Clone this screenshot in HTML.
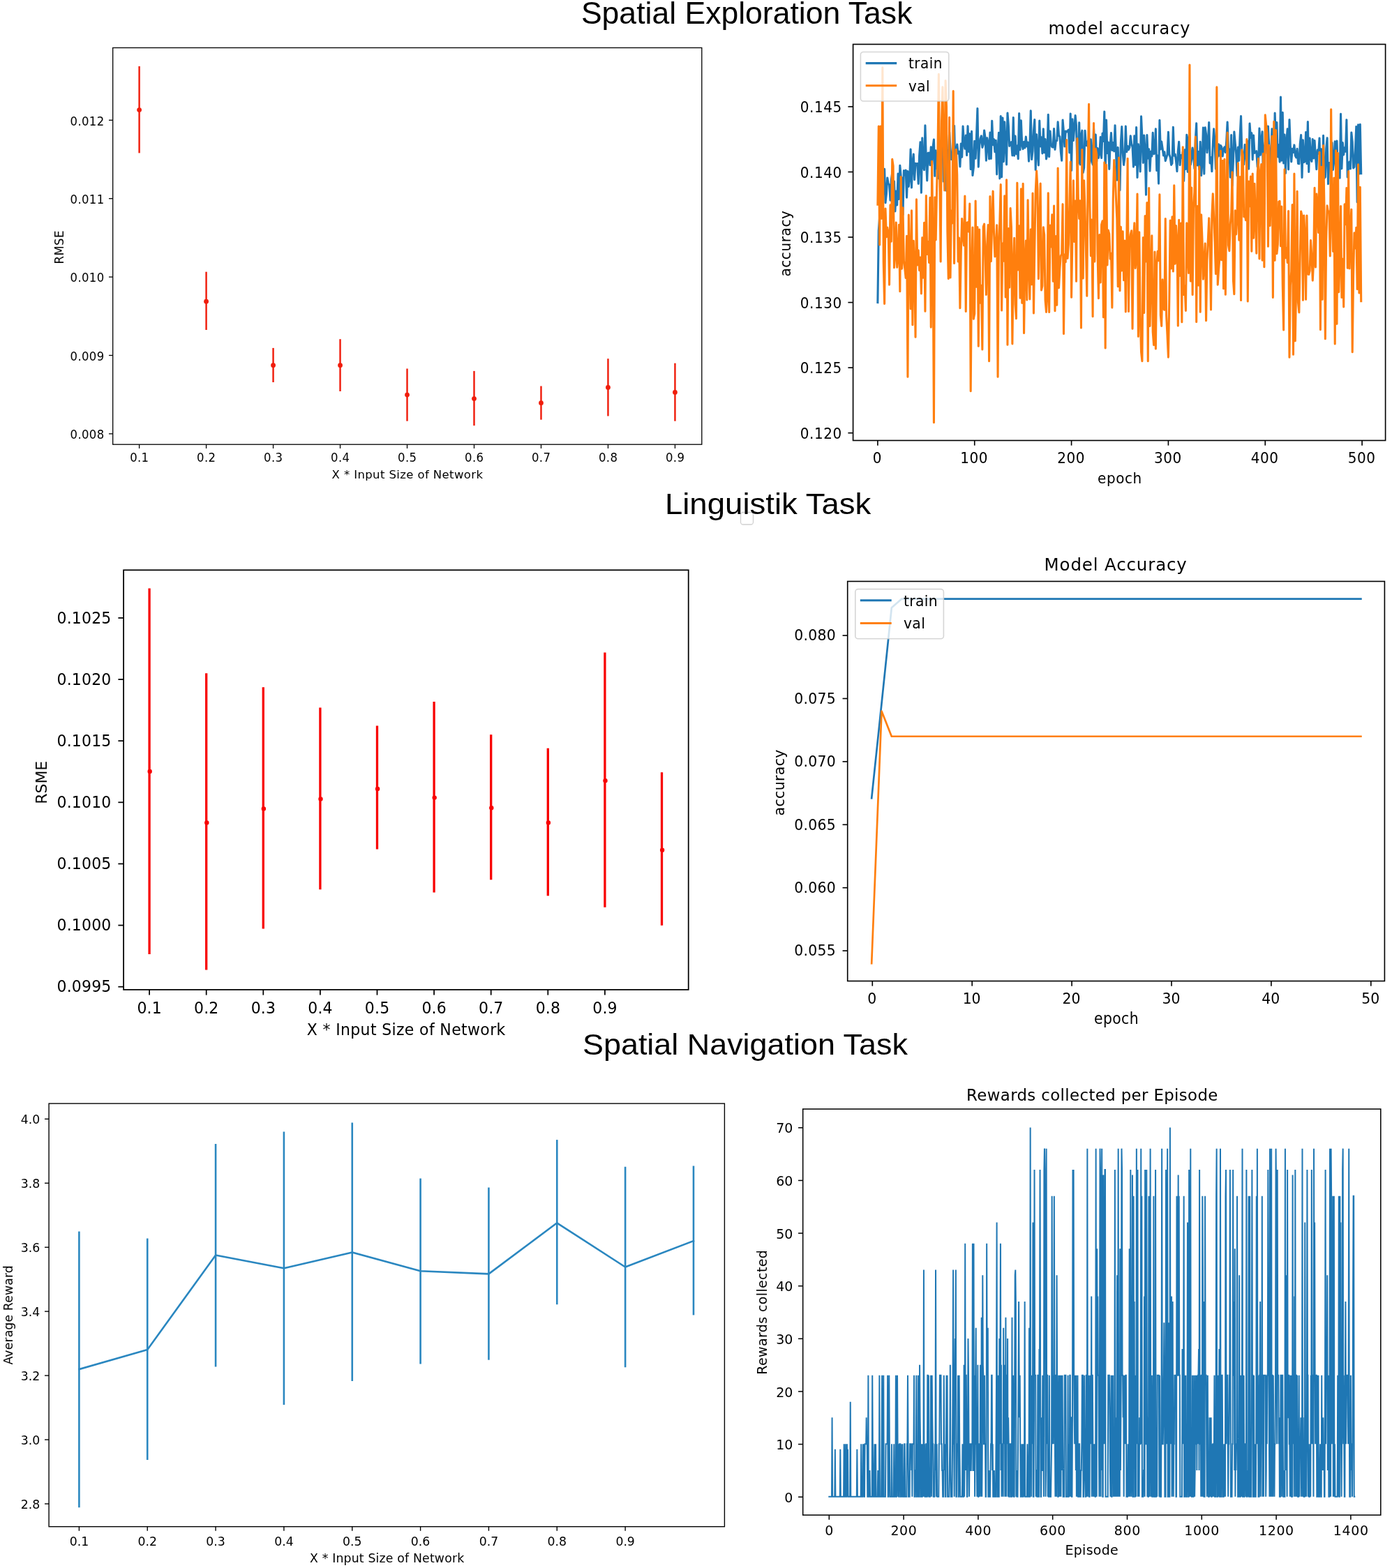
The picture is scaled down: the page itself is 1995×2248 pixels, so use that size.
<!DOCTYPE html>
<html><head><meta charset="utf-8"><title>Figure</title>
<style>
html,body{margin:0;padding:0;background:#fff;}
body{width:1995px;height:2248px;overflow:hidden;}
svg{display:block;}
text.d{font-family:"DejaVu Sans","Liberation Sans",sans-serif;}
text.l{font-family:"Liberation Sans",Arial,sans-serif;}
</style></head><body>
<svg width="1995" height="2248" viewBox="0 0 1995 2248">
<rect width="1995" height="2248" fill="#fff"/>
<text class="l" transform="translate(832.9 33.6)" font-size="43.5" text-anchor="start" textLength="474.5" lengthAdjust="spacingAndGlyphs">Spatial Exploration Task</text>
<rect x="1061.5" y="734.5" width="18" height="17.5" rx="3.5" fill="#fff" stroke="#d0d0d0" stroke-width="1.3"/>
<text class="l" transform="translate(952.9 736.7)" font-size="41.7" text-anchor="start" textLength="295.5" lengthAdjust="spacingAndGlyphs">Linguistik Task</text>
<text class="l" transform="translate(835 1511.8)" font-size="41.7" text-anchor="start" textLength="465.9" lengthAdjust="spacingAndGlyphs">Spatial Navigation Task</text>
<line x1="199.6" y1="95" x2="199.6" y2="219.4" stroke="#f01d0c" stroke-width="2.44"/>
<circle cx="199.6" cy="157.6" r="3.4" fill="#f01d0c"/>
<line x1="295.58" y1="389.7" x2="295.58" y2="473" stroke="#f01d0c" stroke-width="2.44"/>
<circle cx="295.58" cy="432.2" r="3.4" fill="#f01d0c"/>
<line x1="391.56" y1="498.9" x2="391.56" y2="548" stroke="#f01d0c" stroke-width="2.44"/>
<circle cx="391.56" cy="523.7" r="3.4" fill="#f01d0c"/>
<line x1="487.54" y1="486.2" x2="487.54" y2="561" stroke="#f01d0c" stroke-width="2.44"/>
<circle cx="487.54" cy="523.7" r="3.4" fill="#f01d0c"/>
<line x1="583.52" y1="528.5" x2="583.52" y2="603.7" stroke="#f01d0c" stroke-width="2.44"/>
<circle cx="583.52" cy="566.1" r="3.4" fill="#f01d0c"/>
<line x1="679.5" y1="531.9" x2="679.5" y2="610.2" stroke="#f01d0c" stroke-width="2.44"/>
<circle cx="679.5" cy="571.6" r="3.4" fill="#f01d0c"/>
<line x1="775.48" y1="553.5" x2="775.48" y2="601.7" stroke="#f01d0c" stroke-width="2.44"/>
<circle cx="775.48" cy="577.7" r="3.4" fill="#f01d0c"/>
<line x1="871.46" y1="514.2" x2="871.46" y2="596.5" stroke="#f01d0c" stroke-width="2.44"/>
<circle cx="871.46" cy="555.5" r="3.4" fill="#f01d0c"/>
<line x1="967.44" y1="520.7" x2="967.44" y2="603.7" stroke="#f01d0c" stroke-width="2.44"/>
<circle cx="967.44" cy="562.4" r="3.4" fill="#f01d0c"/>
<rect x="161.7" y="68.5" width="844.1" height="568.7" fill="none" stroke="#000" stroke-width="1.3"/>
<line x1="155.99" y1="621.9" x2="161.7" y2="621.9" stroke="#000" stroke-width="1.3"/>
<text class="d" transform="translate(149.2 629.14) scale(1 1.07)" x="0.35" font-size="16.5" text-anchor="end" letter-spacing="0.35">0.008</text>
<line x1="155.99" y1="509.5" x2="161.7" y2="509.5" stroke="#000" stroke-width="1.3"/>
<text class="d" transform="translate(149.2 516.74) scale(1 1.07)" x="0.35" font-size="16.5" text-anchor="end" letter-spacing="0.35">0.009</text>
<line x1="155.99" y1="397.1" x2="161.7" y2="397.1" stroke="#000" stroke-width="1.3"/>
<text class="d" transform="translate(149.2 404.34) scale(1 1.07)" x="0.35" font-size="16.5" text-anchor="end" letter-spacing="0.35">0.010</text>
<line x1="155.99" y1="284.7" x2="161.7" y2="284.7" stroke="#000" stroke-width="1.3"/>
<text class="d" transform="translate(149.2 291.94) scale(1 1.07)" x="0.35" font-size="16.5" text-anchor="end" letter-spacing="0.35">0.011</text>
<line x1="155.99" y1="172.3" x2="161.7" y2="172.3" stroke="#000" stroke-width="1.3"/>
<text class="d" transform="translate(149.2 179.54) scale(1 1.07)" x="0.35" font-size="16.5" text-anchor="end" letter-spacing="0.35">0.012</text>
<line x1="199.6" y1="637.2" x2="199.6" y2="642.91" stroke="#000" stroke-width="1.3"/>
<text class="d" transform="translate(199.6 662.34) scale(1 1.07)" x="0.17" font-size="16.5" text-anchor="middle" letter-spacing="0.35">0.1</text>
<line x1="295.58" y1="637.2" x2="295.58" y2="642.91" stroke="#000" stroke-width="1.3"/>
<text class="d" transform="translate(295.58 662.34) scale(1 1.07)" x="0.17" font-size="16.5" text-anchor="middle" letter-spacing="0.35">0.2</text>
<line x1="391.56" y1="637.2" x2="391.56" y2="642.91" stroke="#000" stroke-width="1.3"/>
<text class="d" transform="translate(391.56 662.34) scale(1 1.07)" x="0.17" font-size="16.5" text-anchor="middle" letter-spacing="0.35">0.3</text>
<line x1="487.54" y1="637.2" x2="487.54" y2="642.91" stroke="#000" stroke-width="1.3"/>
<text class="d" transform="translate(487.54 662.34) scale(1 1.07)" x="0.17" font-size="16.5" text-anchor="middle" letter-spacing="0.35">0.4</text>
<line x1="583.52" y1="637.2" x2="583.52" y2="642.91" stroke="#000" stroke-width="1.3"/>
<text class="d" transform="translate(583.52 662.34) scale(1 1.07)" x="0.17" font-size="16.5" text-anchor="middle" letter-spacing="0.35">0.5</text>
<line x1="679.5" y1="637.2" x2="679.5" y2="642.91" stroke="#000" stroke-width="1.3"/>
<text class="d" transform="translate(679.5 662.34) scale(1 1.07)" x="0.17" font-size="16.5" text-anchor="middle" letter-spacing="0.35">0.6</text>
<line x1="775.48" y1="637.2" x2="775.48" y2="642.91" stroke="#000" stroke-width="1.3"/>
<text class="d" transform="translate(775.48 662.34) scale(1 1.07)" x="0.17" font-size="16.5" text-anchor="middle" letter-spacing="0.35">0.7</text>
<line x1="871.46" y1="637.2" x2="871.46" y2="642.91" stroke="#000" stroke-width="1.3"/>
<text class="d" transform="translate(871.46 662.34) scale(1 1.07)" x="0.17" font-size="16.5" text-anchor="middle" letter-spacing="0.35">0.8</text>
<line x1="967.44" y1="637.2" x2="967.44" y2="642.91" stroke="#000" stroke-width="1.3"/>
<text class="d" transform="translate(967.44 662.34) scale(1 1.07)" x="0.17" font-size="16.5" text-anchor="middle" letter-spacing="0.35">0.9</text>
<text class="d" transform="translate(583.8 685.9)" x="0.2" font-size="16.5" text-anchor="middle" letter-spacing="0.39">X * Input Size of Network</text>
<text class="d" transform="translate(91.3 354.5) rotate(-90) scale(1 1.04)" x="0.2" font-size="16.5" text-anchor="middle" letter-spacing="0.4">RMSE</text>
<polyline fill="none" stroke="#1f77b4" stroke-width="3.07" stroke-linejoin="round" stroke-linecap="square" points="1257.9,433.6 1259.29,330.69 1260.68,311.13 1262.07,292.84 1263.45,278.91 1264.84,294.61 1266.23,264.26 1267.62,242.38 1269.01,290.76 1270.4,278.2 1271.78,254.96 1273.17,263.49 1274.56,265.11 1275.95,287.15 1277.34,257.76 1278.73,247.93 1280.11,296.87 1281.5,259.75 1282.89,302.95 1284.28,273.98 1285.67,293.88 1287.06,249.01 1288.44,285.4 1289.83,237.28 1291.22,253.18 1292.61,255.23 1294,307.89 1295.39,244.61 1296.78,250.91 1298.16,244.02 1299.55,283.31 1300.94,245.63 1302.33,267.35 1303.72,255.57 1305.11,214.08 1306.49,268.93 1307.88,233.05 1309.27,221.07 1310.66,257.7 1312.05,234.38 1313.44,234.88 1314.82,234.52 1316.21,263.48 1317.6,223.06 1318.99,203.89 1320.38,276.31 1321.77,197.75 1323.15,238.3 1324.54,243.61 1325.93,179.9 1327.32,227.65 1328.71,258.87 1330.1,219.39 1331.49,219.17 1332.87,236.81 1334.26,210.81 1335.65,235.81 1337.04,210.83 1338.43,199.96 1339.82,252.34 1341.2,215.75 1342.59,241.68 1343.98,219.36 1345.37,256.06 1346.76,230.11 1348.15,228.2 1349.53,202.44 1350.92,203.67 1352.31,260.31 1353.7,230.22 1355.09,204.8 1356.48,273.43 1357.86,216.34 1359.25,224.18 1360.64,189.43 1362.03,212.4 1363.42,228.55 1364.81,223.94 1366.2,221.83 1367.58,180.25 1368.97,237.64 1370.36,216.78 1371.75,206.96 1373.14,220.25 1374.53,217.32 1375.91,238.91 1377.3,205.92 1378.69,225.19 1380.08,181.03 1381.47,205.55 1382.86,213.3 1384.24,194.05 1385.63,222.68 1387.02,180.81 1388.41,217.37 1389.8,191.9 1391.19,242.65 1392.57,188.39 1393.96,251.53 1395.35,239.98 1396.74,202.23 1398.13,227.2 1399.52,194.68 1400.91,155.63 1402.29,239.15 1403.68,209.09 1405.07,198.57 1406.46,194.85 1407.85,211.48 1409.24,207.03 1410.62,186.97 1412.01,197.12 1413.4,230.26 1414.79,197.85 1416.18,204.75 1417.57,228.02 1418.95,190.15 1420.34,227.51 1421.73,173.36 1423.12,207.68 1424.51,199.66 1425.9,217.83 1427.28,201.19 1428.67,249.98 1430.06,214.94 1431.45,190.36 1432.84,255.85 1434.23,166.48 1435.62,253.78 1437,168.91 1438.39,231.7 1439.78,174.72 1441.17,206.82 1442.56,236.05 1443.95,161.98 1445.33,179.55 1446.72,209.39 1448.11,205.16 1449.5,203.62 1450.89,223 1452.28,168.54 1453.66,223.12 1455.05,195.1 1456.44,220.72 1457.83,208.98 1459.22,227.6 1460.61,162.58 1461.99,214.94 1463.38,172.89 1464.77,207.64 1466.16,213.62 1467.55,203.27 1468.94,211.93 1470.33,196.13 1471.71,209.92 1473.1,204.11 1474.49,231.18 1475.88,209.78 1477.27,158.73 1478.66,228.52 1480.04,216.63 1481.43,187.75 1482.82,171.48 1484.21,243.37 1485.6,192.76 1486.99,217.94 1488.37,236.88 1489.76,172.92 1491.15,209.94 1492.54,196.7 1493.93,220.03 1495.32,184.89 1496.7,218.77 1498.09,199.43 1499.48,227.9 1500.87,221.97 1502.26,164.17 1503.65,224.69 1505.04,187.95 1506.42,206.67 1507.81,210.67 1509.2,211.13 1510.59,184.47 1511.98,214.35 1513.37,201.96 1514.75,201.71 1516.14,174.88 1517.53,194.62 1518.92,195.75 1520.31,217.63 1521.7,230.3 1523.08,172.06 1524.47,189.23 1525.86,210.07 1527.25,187.94 1528.64,189.07 1530.03,187.66 1531.41,186.06 1532.8,218.84 1534.19,163.01 1535.58,244.43 1536.97,170.79 1538.36,201.58 1539.75,183.55 1541.13,165.54 1542.52,180.26 1543.91,237.43 1545.3,233.08 1546.69,175.88 1548.08,235.98 1549.46,194.59 1550.85,187.17 1552.24,247.57 1553.63,240.44 1555.02,187.26 1556.41,208.33 1557.79,208.89 1559.18,202.16 1560.57,225.3 1561.96,233.72 1563.35,199.79 1564.74,228.89 1566.12,235.96 1567.51,183.67 1568.9,212.71 1570.29,193.14 1571.68,231.75 1573.07,212.51 1574.46,226.35 1575.84,219.66 1577.23,196.45 1578.62,226.57 1580.01,191.22 1581.4,202.53 1582.79,160.04 1584.17,253.05 1585.56,172.13 1586.95,219.59 1588.34,203.91 1589.73,242.52 1591.12,208.11 1592.5,190.62 1593.89,215.5 1595.28,204.53 1596.67,216.84 1598.06,179.67 1599.45,218.65 1600.83,258.24 1602.22,211.41 1603.61,255.65 1605,272.7 1606.39,204.26 1607.78,181.53 1609.17,218.76 1610.55,236.44 1611.94,226.04 1613.33,181.04 1614.72,217.62 1616.11,209.54 1617.5,214.66 1618.88,211.3 1620.27,194.72 1621.66,205.97 1623.05,210.84 1624.44,239.18 1625.83,194.7 1627.21,236.37 1628.6,182.65 1629.99,254.44 1631.38,206.76 1632.77,218.38 1634.16,246.06 1635.54,166.87 1636.93,197.11 1638.32,233.4 1639.71,193.99 1641.1,215.37 1642.49,279.3 1643.88,193.51 1645.26,226.9 1646.65,213.87 1648.04,245.27 1649.43,217.33 1650.82,223.95 1652.21,190.37 1653.59,220.77 1654.98,219.97 1656.37,184.69 1657.76,244.38 1659.15,222.96 1660.54,263.13 1661.92,172.26 1663.31,214.03 1664.7,202.97 1666.09,212.45 1667.48,223.04 1668.87,217.77 1670.25,230.65 1671.64,226.02 1673.03,221.74 1674.42,189.3 1675.81,221.29 1677.2,225.81 1678.59,236.4 1679.97,234.28 1681.36,182.34 1682.75,223.31 1684.14,221.04 1685.53,231.16 1686.92,245.72 1688.3,216.73 1689.69,203.19 1691.08,236.62 1692.47,222.48 1693.86,226.34 1695.25,217.21 1696.63,259.52 1698.02,214.83 1699.41,242.47 1700.8,193.27 1702.19,246.5 1703.58,198.77 1704.96,190.68 1706.35,235.85 1707.74,228.79 1709.13,212.12 1710.52,221.41 1711.91,241.57 1713.3,201.26 1714.68,176.75 1716.07,237.03 1717.46,217.49 1718.85,242.9 1720.24,203.23 1721.63,251.61 1723.01,233.67 1724.4,183.09 1725.79,249.23 1727.18,182.77 1728.57,192.2 1729.96,218.81 1731.34,203.81 1732.73,175.45 1734.12,234.07 1735.51,225.6 1736.9,245.78 1738.29,206.96 1739.67,184.84 1741.06,203.48 1742.45,242.22 1743.84,228.42 1745.23,224.2 1746.62,206.69 1748.01,223.44 1749.39,208.45 1750.78,210.88 1752.17,223.93 1753.56,213.82 1754.95,210.94 1756.34,218.45 1757.72,202.31 1759.11,175.03 1760.5,212.98 1761.89,213.99 1763.28,254.28 1764.67,193.54 1766.05,266.21 1767.44,231.69 1768.83,188.96 1770.22,205.1 1771.61,220.14 1773,251.97 1774.38,210.96 1775.77,230.31 1777.16,193.59 1778.55,166.55 1779.94,222.25 1781.33,228.69 1782.72,235.76 1784.1,207.43 1785.49,218.61 1786.88,237.83 1788.27,202.17 1789.66,242.26 1791.05,177.06 1792.43,197.54 1793.82,190.63 1795.21,228.92 1796.6,194.07 1797.99,219.4 1799.38,217.56 1800.76,216.71 1802.15,239.19 1803.54,235.57 1804.93,184.07 1806.32,222.33 1807.71,201.07 1809.09,188.84 1810.48,256.23 1811.87,213.57 1813.26,203.69 1814.65,201.34 1816.04,219.79 1817.43,181.12 1818.81,211.63 1820.2,235.53 1821.59,221.51 1822.98,184.87 1824.37,203.61 1825.76,253 1827.14,162.01 1828.53,206.6 1829.92,175.55 1831.31,225.01 1832.7,207.87 1834.09,232.2 1835.47,138.98 1836.86,230.14 1838.25,161.31 1839.64,233.98 1841.03,192.97 1842.42,248.56 1843.8,202.29 1845.19,184.76 1846.58,242.85 1847.97,171.62 1849.36,210.72 1850.75,231.84 1852.14,213.37 1853.52,218.46 1854.91,207.9 1856.3,223 1857.69,225.83 1859.08,213.3 1860.47,234.5 1861.85,234.83 1863.24,206.25 1864.63,193.59 1866.02,254.35 1867.41,200.82 1868.8,232.71 1870.18,231.34 1871.57,189.49 1872.96,234.67 1874.35,174.5 1875.74,246.38 1877.13,198.09 1878.51,227.48 1879.9,231.53 1881.29,199.48 1882.68,227.01 1884.07,201.57 1885.46,224.96 1886.85,242.78 1888.23,214.97 1889.62,220.26 1891.01,198.02 1892.4,248.85 1893.79,213.87 1895.18,264.26 1896.56,194.19 1897.95,255.63 1899.34,253.85 1900.73,213.22 1902.12,197.86 1903.51,263.68 1904.89,233.42 1906.28,234.13 1907.67,242.65 1909.06,204.5 1910.45,243.39 1911.84,229.41 1913.22,202.79 1914.61,241.78 1916,201.99 1917.39,246.46 1918.78,238.45 1920.17,255.12 1921.56,163.36 1922.94,241.61 1924.33,204.63 1925.72,221.85 1927.11,211.91 1928.5,217.17 1929.89,171.82 1931.27,254.05 1932.66,241.21 1934.05,232 1935.44,242 1936.83,190.01 1938.22,203.59 1939.6,240.88 1940.99,239.43 1942.38,215.34 1943.77,181.43 1945.16,289.77 1946.55,178.71 1947.93,249.2 1949.32,178.26 1950.71,248.78"/>
<polyline fill="none" stroke="#ff7f0e" stroke-width="3.07" stroke-linejoin="round" stroke-linecap="square" points="1257.9,293.27 1259.29,181.02 1260.68,350.91 1262.07,181.02 1263.45,313.15 1264.84,96.82 1266.23,376.32 1267.62,435.43 1269.01,299.07 1270.4,339.81 1271.78,326.38 1273.17,333.9 1274.56,408.11 1275.95,293.86 1277.34,346.23 1278.73,228.32 1280.11,237.71 1281.5,383.74 1282.89,365.93 1284.28,318.99 1285.67,383.32 1287.06,367.28 1288.44,322.22 1289.83,417.71 1291.22,253.65 1292.61,385.14 1294,297.79 1295.39,373.85 1296.78,384.72 1298.16,398.52 1299.55,338.26 1300.94,540.25 1302.33,308 1303.72,367.31 1305.11,442.64 1306.49,301.82 1307.88,465.63 1309.27,345.17 1310.66,383.75 1312.05,483.15 1313.44,285.9 1314.82,379.94 1316.21,358.9 1317.6,387.77 1318.99,369.03 1320.38,421.01 1321.77,340.66 1323.15,398.29 1324.54,319.38 1325.93,446.23 1327.32,280.57 1328.71,364.37 1330.1,346.5 1331.49,376.43 1332.87,283.33 1334.26,469.1 1335.65,231.19 1337.04,348.23 1338.43,605.73 1339.82,282.68 1341.2,343.98 1342.59,270.14 1343.98,217.46 1345.37,106.18 1346.76,254.28 1348.15,375.03 1349.53,173.68 1350.92,124.89 1352.31,207.77 1353.7,273.07 1355.09,115.53 1356.48,152.94 1357.86,332.76 1359.25,399.52 1360.64,168.24 1362.03,397.95 1363.42,302 1364.81,319.94 1366.2,130.5 1367.58,377.39 1368.97,249.65 1370.36,214.43 1371.75,251.16 1373.14,374.94 1374.53,341.08 1375.91,441.75 1377.3,360.93 1378.69,313.48 1380.08,338.74 1381.47,351.98 1382.86,281.02 1384.24,446.43 1385.63,319.13 1387.02,318.8 1388.41,332.22 1389.8,292.01 1391.19,560.83 1392.57,388.76 1393.96,325.95 1395.35,457.2 1396.74,449.7 1398.13,287.96 1399.52,411.31 1400.91,325.47 1402.29,496.23 1403.68,329.13 1405.07,434.13 1406.46,409.36 1407.85,501.03 1409.24,325.02 1410.62,321.15 1412.01,363.89 1413.4,422.5 1414.79,350.07 1416.18,322.62 1417.57,517.79 1418.95,281.63 1420.34,374.83 1421.73,319.65 1423.12,274.16 1424.51,333.86 1425.9,367.93 1427.28,353.69 1428.67,322.84 1430.06,540.25 1431.45,348.81 1432.84,317.45 1434.23,264.56 1435.62,445.05 1437,349.02 1438.39,374.19 1439.78,280.85 1441.17,425.9 1442.56,257.68 1443.95,494.15 1445.33,327.48 1446.72,412.09 1448.11,298.47 1449.5,326.64 1450.89,492.86 1452.28,382.09 1453.66,341.22 1455.05,436.3 1456.44,456.8 1457.83,262.16 1459.22,387.03 1460.61,323.69 1461.99,427.18 1463.38,270.79 1464.77,434.36 1466.16,263.29 1467.55,477.59 1468.94,378.82 1470.33,345.03 1471.71,429.98 1473.1,286.86 1474.49,382.29 1475.88,428.9 1477.27,328.82 1478.66,407.63 1480.04,276.97 1481.43,448.95 1482.82,355.94 1484.21,274.91 1485.6,245.11 1486.99,270.61 1488.37,399.63 1489.76,325.09 1491.15,262.92 1492.54,415.91 1493.93,409.87 1495.32,325.72 1496.7,336.63 1498.09,430.29 1499.48,447.36 1500.87,425.46 1502.26,276.74 1503.65,447.56 1505.04,323.05 1506.42,353.89 1507.81,307.69 1509.2,403.33 1510.59,294.93 1511.98,445.69 1513.37,338.65 1514.75,437.27 1516.14,241.08 1517.53,412.76 1518.92,384.88 1520.31,366.87 1521.7,364.11 1523.08,292.66 1524.47,478.55 1525.86,364.84 1527.25,375.72 1528.64,200.46 1530.03,370.42 1531.41,350.42 1532.8,294.3 1534.19,232 1535.58,426.29 1536.97,340.22 1538.36,258.76 1539.75,346.45 1541.13,288.13 1542.52,403.31 1543.91,198.53 1545.3,283.09 1546.69,313.45 1548.08,287.69 1549.46,470.04 1550.85,214.54 1552.24,399 1553.63,258.9 1555.02,299.41 1556.41,359.14 1557.79,424.12 1559.18,239.58 1560.57,149.21 1561.96,296.73 1563.35,366.81 1564.74,315.06 1566.12,453.69 1567.51,176.5 1568.9,374.88 1570.29,213.29 1571.68,221.39 1573.07,363.95 1574.46,427.68 1575.84,336.45 1577.23,404.85 1578.62,322.2 1580.01,316.81 1581.4,454.72 1582.79,232.79 1584.17,499.08 1585.56,236.31 1586.95,380.04 1588.34,330.03 1589.73,335.12 1591.12,371.22 1592.5,363.23 1593.89,440.88 1595.28,285.18 1596.67,229.51 1598.06,246.44 1599.45,283.82 1600.83,314.11 1602.22,410.78 1603.61,225.93 1605,416.83 1606.39,325.16 1607.78,388.08 1609.17,331.79 1610.55,401.64 1611.94,345 1613.33,446.92 1614.72,350.48 1616.11,227.36 1617.5,446.43 1618.88,348.72 1620.27,336.12 1621.66,330.76 1623.05,471.13 1624.44,343.7 1625.83,319.82 1627.21,384.4 1628.6,369.09 1629.99,277.92 1631.38,482.36 1632.77,332.84 1634.16,451.01 1635.54,504.7 1636.93,517.79 1638.32,340.53 1639.71,448.36 1641.1,309.61 1642.49,374.95 1643.88,290.44 1645.26,517.79 1646.65,269.53 1648.04,467.35 1649.43,401.65 1650.82,337.78 1652.21,475.52 1653.59,494.66 1654.98,361.02 1656.37,500.01 1657.76,379.54 1659.15,360.26 1660.54,373.67 1661.92,278.81 1663.31,451.76 1664.7,467.38 1666.09,400.9 1667.48,442.53 1668.87,444.25 1670.25,313.56 1671.64,452.4 1673.03,481.2 1674.42,512.18 1675.81,428.62 1677.2,316.15 1678.59,384.97 1679.97,310.67 1681.36,388.88 1682.75,265.89 1684.14,378.25 1685.53,323.55 1686.92,344.43 1688.3,466.99 1689.69,315.27 1691.08,395.56 1692.47,320.08 1693.86,461.82 1695.25,210.76 1696.63,422.53 1698.02,409.98 1699.41,445.43 1700.8,319.76 1702.19,363.86 1703.58,391.56 1704.96,93.08 1706.35,403.03 1707.74,269.03 1709.13,422.41 1710.52,298.65 1711.91,275.28 1713.3,196.03 1714.68,461.57 1716.07,295.58 1717.46,409.06 1718.85,238.89 1720.24,447.21 1721.63,307.72 1723.01,343.46 1724.4,400.29 1725.79,374.2 1727.18,349.11 1728.57,459.68 1729.96,374.02 1731.34,344.18 1732.73,312.69 1734.12,353.71 1735.51,444.02 1736.9,308.45 1738.29,277.8 1739.67,310.36 1741.06,346.21 1742.45,392.81 1743.84,124.89 1745.23,408.23 1746.62,386.09 1748.01,369.19 1749.39,216.35 1750.78,372.72 1752.17,230.4 1753.56,413.63 1754.95,228.22 1756.34,422.3 1757.72,298.37 1759.11,190.16 1760.5,351.47 1761.89,359.7 1763.28,321.87 1764.67,305.24 1766.05,246.7 1767.44,401.66 1768.83,421.78 1770.22,301.87 1771.61,335.91 1773,312.26 1774.38,233.8 1775.77,344.14 1777.16,253.55 1778.55,430.42 1779.94,214.69 1781.33,222.39 1782.72,310.69 1784.1,306.57 1785.49,315.77 1786.88,199.61 1788.27,431.91 1789.66,259.99 1791.05,295.76 1792.43,253.08 1793.82,360.31 1795.21,249.14 1796.6,341.19 1797.99,263.23 1799.38,314.34 1800.76,363.32 1802.15,249.45 1803.54,227.24 1804.93,370.86 1806.32,247.89 1807.71,235.5 1809.09,373.1 1810.48,220.39 1811.87,382.81 1813.26,164.79 1814.65,178.97 1816.04,190.68 1817.43,353.15 1818.81,208.35 1820.2,323.59 1821.59,273.23 1822.98,195.19 1824.37,426.38 1825.76,174.21 1827.14,373.15 1828.53,186.61 1829.92,363.71 1831.31,350.51 1832.7,289.06 1834.09,288.42 1835.47,352.75 1836.86,296.07 1838.25,408.35 1839.64,472.93 1841.03,242.7 1842.42,369.76 1843.8,355.61 1845.19,376.55 1846.58,302.59 1847.97,512.18 1849.36,408.88 1850.75,389.03 1852.14,293.46 1853.52,508.24 1854.91,249.08 1856.3,488.74 1857.69,409.74 1859.08,274.31 1860.47,433.63 1861.85,447.9 1863.24,366.99 1864.63,302.99 1866.02,309.38 1867.41,430.12 1868.8,309.06 1870.18,337.31 1871.57,429.19 1872.96,308.98 1874.35,392.92 1875.74,393.53 1877.13,388.44 1878.51,344.45 1879.9,365.94 1881.29,402.21 1882.68,373.66 1884.07,269.36 1885.46,382.95 1886.85,278.02 1888.23,297.44 1889.62,333.41 1891.01,218.19 1892.4,472.61 1893.79,239.39 1895.18,429.21 1896.56,208.64 1897.95,297.08 1899.34,485.74 1900.73,343.13 1902.12,294.91 1903.51,305 1904.89,303.13 1906.28,367.06 1907.67,156.69 1909.06,309.99 1910.45,360.35 1911.84,255.05 1913.22,493.05 1914.61,215.86 1916,464.21 1917.39,219.21 1918.78,418.63 1920.17,373.64 1921.56,295.47 1922.94,426.55 1924.33,371.16 1925.72,440.06 1927.11,292.68 1928.5,321.77 1929.89,269.53 1931.27,384.11 1932.66,245.47 1934.05,384.87 1935.44,327.02 1936.83,300.22 1938.22,504.7 1939.6,396.06 1940.99,333.7 1942.38,355.87 1943.77,326.25 1945.16,414.4 1946.55,235.89 1947.93,419.93 1949.32,268.24 1950.71,431.68"/>
<rect x="1222.6" y="63.5" width="763" height="568" fill="none" stroke="#000" stroke-width="1.64"/>
<line x1="1215.42" y1="620.7" x2="1222.6" y2="620.7" stroke="#000" stroke-width="1.64"/>
<text class="d" transform="translate(1206.2 628.95) scale(1 1.05)" x="0.55" font-size="20" text-anchor="end" letter-spacing="0.55">0.120</text>
<line x1="1215.42" y1="527.15" x2="1222.6" y2="527.15" stroke="#000" stroke-width="1.64"/>
<text class="d" transform="translate(1206.2 535.4) scale(1 1.05)" x="0.55" font-size="20" text-anchor="end" letter-spacing="0.55">0.125</text>
<line x1="1215.42" y1="433.6" x2="1222.6" y2="433.6" stroke="#000" stroke-width="1.64"/>
<text class="d" transform="translate(1206.2 441.85) scale(1 1.05)" x="0.55" font-size="20" text-anchor="end" letter-spacing="0.55">0.130</text>
<line x1="1215.42" y1="340.05" x2="1222.6" y2="340.05" stroke="#000" stroke-width="1.64"/>
<text class="d" transform="translate(1206.2 348.3) scale(1 1.05)" x="0.55" font-size="20" text-anchor="end" letter-spacing="0.55">0.135</text>
<line x1="1215.42" y1="246.5" x2="1222.6" y2="246.5" stroke="#000" stroke-width="1.64"/>
<text class="d" transform="translate(1206.2 254.75) scale(1 1.05)" x="0.55" font-size="20" text-anchor="end" letter-spacing="0.55">0.140</text>
<line x1="1215.42" y1="152.95" x2="1222.6" y2="152.95" stroke="#000" stroke-width="1.64"/>
<text class="d" transform="translate(1206.2 161.2) scale(1 1.05)" x="0.55" font-size="20" text-anchor="end" letter-spacing="0.55">0.145</text>
<line x1="1257.9" y1="631.5" x2="1257.9" y2="638.67" stroke="#000" stroke-width="1.64"/>
<text class="d" transform="translate(1257.1 663.75) scale(1 1.05)" x="0.28" font-size="20" text-anchor="middle" letter-spacing="0.55">0</text>
<line x1="1396.74" y1="631.5" x2="1396.74" y2="638.67" stroke="#000" stroke-width="1.64"/>
<text class="d" transform="translate(1395.94 663.75) scale(1 1.05)" x="0.28" font-size="20" text-anchor="middle" letter-spacing="0.55">100</text>
<line x1="1535.58" y1="631.5" x2="1535.58" y2="638.67" stroke="#000" stroke-width="1.64"/>
<text class="d" transform="translate(1534.78 663.75) scale(1 1.05)" x="0.28" font-size="20" text-anchor="middle" letter-spacing="0.55">200</text>
<line x1="1674.42" y1="631.5" x2="1674.42" y2="638.67" stroke="#000" stroke-width="1.64"/>
<text class="d" transform="translate(1673.62 663.75) scale(1 1.05)" x="0.28" font-size="20" text-anchor="middle" letter-spacing="0.55">300</text>
<line x1="1813.26" y1="631.5" x2="1813.26" y2="638.67" stroke="#000" stroke-width="1.64"/>
<text class="d" transform="translate(1812.46 663.75) scale(1 1.05)" x="0.28" font-size="20" text-anchor="middle" letter-spacing="0.55">400</text>
<line x1="1952.1" y1="631.5" x2="1952.1" y2="638.67" stroke="#000" stroke-width="1.64"/>
<text class="d" transform="translate(1951.3 663.75) scale(1 1.05)" x="0.28" font-size="20" text-anchor="middle" letter-spacing="0.55">500</text>
<text class="d" transform="translate(1604.6 692.8) scale(1 1.08)" x="0.28" font-size="20" text-anchor="middle" letter-spacing="0.55">epoch</text>
<text class="d" transform="translate(1132.8 349.4) rotate(-90) scale(1 1.05)" x="0.3" font-size="20" text-anchor="middle" letter-spacing="0.6">accuracy</text>
<text class="d" transform="translate(1604 48.9)" x="0.47" font-size="24" text-anchor="middle" letter-spacing="0.95">model accuracy</text>
<rect x="1233.4" y="74.5" width="126.4" height="70.5" rx="4" fill="#fff" fill-opacity="0.8" stroke="#cccccc" stroke-opacity="0.8" stroke-width="1.64"/>
<line x1="1240.7" y1="90.6" x2="1285.2" y2="90.6" stroke="#1f77b4" stroke-width="3.07"/>
<text class="d" transform="translate(1302 98.47) scale(1 1.08)" font-size="20" text-anchor="start" letter-spacing="0.5">train</text>
<line x1="1240.7" y1="122.8" x2="1285.2" y2="122.8" stroke="#ff7f0e" stroke-width="3.07"/>
<text class="d" transform="translate(1302 130.67) scale(1 1.08)" font-size="20" text-anchor="start" letter-spacing="0.5">val</text>
<line x1="214.1" y1="843.4" x2="214.1" y2="1368" stroke="#f80000" stroke-width="3.3"/>
<circle cx="214.7" cy="1106" r="3.2" fill="#f80000"/>
<line x1="295.7" y1="965.3" x2="295.7" y2="1390.4" stroke="#f80000" stroke-width="3.3"/>
<circle cx="296.3" cy="1179.4" r="3.2" fill="#f80000"/>
<line x1="377.3" y1="985.3" x2="377.3" y2="1331.6" stroke="#f80000" stroke-width="3.3"/>
<circle cx="377.9" cy="1159.4" r="3.2" fill="#f80000"/>
<line x1="458.9" y1="1014.4" x2="458.9" y2="1275.2" stroke="#f80000" stroke-width="3.3"/>
<circle cx="459.5" cy="1145.4" r="3.2" fill="#f80000"/>
<line x1="540.5" y1="1040.5" x2="540.5" y2="1217.6" stroke="#f80000" stroke-width="3.3"/>
<circle cx="541.1" cy="1130.9" r="3.2" fill="#f80000"/>
<line x1="622.1" y1="1006" x2="622.1" y2="1279.4" stroke="#f80000" stroke-width="3.3"/>
<circle cx="622.7" cy="1143.6" r="3.2" fill="#f80000"/>
<line x1="703.7" y1="1053.2" x2="703.7" y2="1261.3" stroke="#f80000" stroke-width="3.3"/>
<circle cx="704.3" cy="1158.2" r="3.2" fill="#f80000"/>
<line x1="785.3" y1="1072.7" x2="785.3" y2="1284.3" stroke="#f80000" stroke-width="3.3"/>
<circle cx="785.9" cy="1179.4" r="3.2" fill="#f80000"/>
<line x1="866.9" y1="935.6" x2="866.9" y2="1300.7" stroke="#f80000" stroke-width="3.3"/>
<circle cx="867.5" cy="1119.3" r="3.2" fill="#f80000"/>
<line x1="948.5" y1="1107.2" x2="948.5" y2="1326.7" stroke="#f80000" stroke-width="3.3"/>
<circle cx="949.1" cy="1218.8" r="3.2" fill="#f80000"/>
<rect x="177.1" y="817.3" width="809.6" height="601.6" fill="none" stroke="#000" stroke-width="1.76"/>
<line x1="169.4" y1="1414.7" x2="177.1" y2="1414.7" stroke="#000" stroke-width="1.76"/>
<text class="d" transform="translate(159.3 1422.36) scale(1 1.03)" x="0.15" font-size="22" text-anchor="end" letter-spacing="0.15">0.0995</text>
<line x1="169.4" y1="1326.57" x2="177.1" y2="1326.57" stroke="#000" stroke-width="1.76"/>
<text class="d" transform="translate(159.3 1334.23) scale(1 1.03)" x="0.15" font-size="22" text-anchor="end" letter-spacing="0.15">0.1000</text>
<line x1="169.4" y1="1238.44" x2="177.1" y2="1238.44" stroke="#000" stroke-width="1.76"/>
<text class="d" transform="translate(159.3 1246.1) scale(1 1.03)" x="0.15" font-size="22" text-anchor="end" letter-spacing="0.15">0.1005</text>
<line x1="169.4" y1="1150.31" x2="177.1" y2="1150.31" stroke="#000" stroke-width="1.76"/>
<text class="d" transform="translate(159.3 1157.97) scale(1 1.03)" x="0.15" font-size="22" text-anchor="end" letter-spacing="0.15">0.1010</text>
<line x1="169.4" y1="1062.18" x2="177.1" y2="1062.18" stroke="#000" stroke-width="1.76"/>
<text class="d" transform="translate(159.3 1069.84) scale(1 1.03)" x="0.15" font-size="22" text-anchor="end" letter-spacing="0.15">0.1015</text>
<line x1="169.4" y1="974.05" x2="177.1" y2="974.05" stroke="#000" stroke-width="1.76"/>
<text class="d" transform="translate(159.3 981.71) scale(1 1.03)" x="0.15" font-size="22" text-anchor="end" letter-spacing="0.15">0.1020</text>
<line x1="169.4" y1="885.92" x2="177.1" y2="885.92" stroke="#000" stroke-width="1.76"/>
<text class="d" transform="translate(159.3 893.58) scale(1 1.03)" x="0.15" font-size="22" text-anchor="end" letter-spacing="0.15">0.1025</text>
<line x1="214.1" y1="1418.9" x2="214.1" y2="1426.6" stroke="#000" stroke-width="1.76"/>
<text class="d" transform="translate(214.1 1453.26) scale(1 1.03)" x="0.07" font-size="22" text-anchor="middle" letter-spacing="0.15">0.1</text>
<line x1="295.7" y1="1418.9" x2="295.7" y2="1426.6" stroke="#000" stroke-width="1.76"/>
<text class="d" transform="translate(295.7 1453.26) scale(1 1.03)" x="0.07" font-size="22" text-anchor="middle" letter-spacing="0.15">0.2</text>
<line x1="377.3" y1="1418.9" x2="377.3" y2="1426.6" stroke="#000" stroke-width="1.76"/>
<text class="d" transform="translate(377.3 1453.26) scale(1 1.03)" x="0.07" font-size="22" text-anchor="middle" letter-spacing="0.15">0.3</text>
<line x1="458.9" y1="1418.9" x2="458.9" y2="1426.6" stroke="#000" stroke-width="1.76"/>
<text class="d" transform="translate(458.9 1453.26) scale(1 1.03)" x="0.07" font-size="22" text-anchor="middle" letter-spacing="0.15">0.4</text>
<line x1="540.5" y1="1418.9" x2="540.5" y2="1426.6" stroke="#000" stroke-width="1.76"/>
<text class="d" transform="translate(540.5 1453.26) scale(1 1.03)" x="0.07" font-size="22" text-anchor="middle" letter-spacing="0.15">0.5</text>
<line x1="622.1" y1="1418.9" x2="622.1" y2="1426.6" stroke="#000" stroke-width="1.76"/>
<text class="d" transform="translate(622.1 1453.26) scale(1 1.03)" x="0.07" font-size="22" text-anchor="middle" letter-spacing="0.15">0.6</text>
<line x1="703.7" y1="1418.9" x2="703.7" y2="1426.6" stroke="#000" stroke-width="1.76"/>
<text class="d" transform="translate(703.7 1453.26) scale(1 1.03)" x="0.07" font-size="22" text-anchor="middle" letter-spacing="0.15">0.7</text>
<line x1="785.3" y1="1418.9" x2="785.3" y2="1426.6" stroke="#000" stroke-width="1.76"/>
<text class="d" transform="translate(785.3 1453.26) scale(1 1.03)" x="0.07" font-size="22" text-anchor="middle" letter-spacing="0.15">0.8</text>
<line x1="866.9" y1="1418.9" x2="866.9" y2="1426.6" stroke="#000" stroke-width="1.76"/>
<text class="d" transform="translate(866.9 1453.26) scale(1 1.03)" x="0.07" font-size="22" text-anchor="middle" letter-spacing="0.15">0.9</text>
<text class="d" transform="translate(582 1483.6) scale(1 1.02)" x="0.17" font-size="22" text-anchor="middle" letter-spacing="0.35">X * Input Size of Network</text>
<text class="d" transform="translate(66.8 1121.8) rotate(-90)" font-size="22" text-anchor="middle">RSME</text>
<polyline fill="none" stroke="#1f77b4" stroke-width="2.7" stroke-linejoin="round" stroke-linecap="square" points="1249.2,1144.33 1263.51,1008.73 1277.82,871.32 1292.13,858.67 1306.44,858.67 1320.75,858.67 1335.06,858.67 1349.37,858.67 1363.68,858.67 1377.99,858.67 1392.3,858.67 1406.61,858.67 1420.92,858.67 1435.23,858.67 1449.54,858.67 1463.85,858.67 1478.16,858.67 1492.47,858.67 1506.78,858.67 1521.09,858.67 1535.4,858.67 1549.71,858.67 1564.02,858.67 1578.33,858.67 1592.64,858.67 1606.95,858.67 1621.26,858.67 1635.57,858.67 1649.88,858.67 1664.19,858.67 1678.5,858.67 1692.81,858.67 1707.12,858.67 1721.43,858.67 1735.74,858.67 1750.05,858.67 1764.36,858.67 1778.67,858.67 1792.98,858.67 1807.29,858.67 1821.6,858.67 1835.91,858.67 1850.22,858.67 1864.53,858.67 1878.84,858.67 1893.15,858.67 1907.46,858.67 1921.77,858.67 1936.08,858.67 1950.39,858.67"/>
<polyline fill="none" stroke="#ff7f0e" stroke-width="2.7" stroke-linejoin="round" stroke-linecap="square" points="1249.2,1381.18 1263.51,1019.58 1277.82,1055.74 1292.13,1055.74 1306.44,1055.74 1320.75,1055.74 1335.06,1055.74 1349.37,1055.74 1363.68,1055.74 1377.99,1055.74 1392.3,1055.74 1406.61,1055.74 1420.92,1055.74 1435.23,1055.74 1449.54,1055.74 1463.85,1055.74 1478.16,1055.74 1492.47,1055.74 1506.78,1055.74 1521.09,1055.74 1535.4,1055.74 1549.71,1055.74 1564.02,1055.74 1578.33,1055.74 1592.64,1055.74 1606.95,1055.74 1621.26,1055.74 1635.57,1055.74 1649.88,1055.74 1664.19,1055.74 1678.5,1055.74 1692.81,1055.74 1707.12,1055.74 1721.43,1055.74 1735.74,1055.74 1750.05,1055.74 1764.36,1055.74 1778.67,1055.74 1792.98,1055.74 1807.29,1055.74 1821.6,1055.74 1835.91,1055.74 1850.22,1055.74 1864.53,1055.74 1878.84,1055.74 1893.15,1055.74 1907.46,1055.74 1921.77,1055.74 1936.08,1055.74 1950.39,1055.74"/>
<rect x="1214.7" y="833.5" width="769.7" height="573" fill="none" stroke="#000" stroke-width="1.63"/>
<line x1="1207.56" y1="1363.1" x2="1214.7" y2="1363.1" stroke="#000" stroke-width="1.63"/>
<text class="d" transform="translate(1197.8 1370.34)" x="0.3" font-size="20.4" text-anchor="end" letter-spacing="0.3">0.055</text>
<line x1="1207.56" y1="1272.7" x2="1214.7" y2="1272.7" stroke="#000" stroke-width="1.63"/>
<text class="d" transform="translate(1197.8 1279.94)" x="0.3" font-size="20.4" text-anchor="end" letter-spacing="0.3">0.060</text>
<line x1="1207.56" y1="1182.3" x2="1214.7" y2="1182.3" stroke="#000" stroke-width="1.63"/>
<text class="d" transform="translate(1197.8 1189.54)" x="0.3" font-size="20.4" text-anchor="end" letter-spacing="0.3">0.065</text>
<line x1="1207.56" y1="1091.9" x2="1214.7" y2="1091.9" stroke="#000" stroke-width="1.63"/>
<text class="d" transform="translate(1197.8 1099.14)" x="0.3" font-size="20.4" text-anchor="end" letter-spacing="0.3">0.070</text>
<line x1="1207.56" y1="1001.5" x2="1214.7" y2="1001.5" stroke="#000" stroke-width="1.63"/>
<text class="d" transform="translate(1197.8 1008.74)" x="0.3" font-size="20.4" text-anchor="end" letter-spacing="0.3">0.075</text>
<line x1="1207.56" y1="911.1" x2="1214.7" y2="911.1" stroke="#000" stroke-width="1.63"/>
<text class="d" transform="translate(1197.8 918.34)" x="0.3" font-size="20.4" text-anchor="end" letter-spacing="0.3">0.080</text>
<line x1="1250.3" y1="1406.5" x2="1250.3" y2="1413.64" stroke="#000" stroke-width="1.63"/>
<text class="d" transform="translate(1249.7 1439.14)" font-size="20.4" text-anchor="middle">0</text>
<line x1="1393.2" y1="1406.5" x2="1393.2" y2="1413.64" stroke="#000" stroke-width="1.63"/>
<text class="d" transform="translate(1392.6 1439.14)" font-size="20.4" text-anchor="middle">10</text>
<line x1="1536.1" y1="1406.5" x2="1536.1" y2="1413.64" stroke="#000" stroke-width="1.63"/>
<text class="d" transform="translate(1535.5 1439.14)" font-size="20.4" text-anchor="middle">20</text>
<line x1="1679" y1="1406.5" x2="1679" y2="1413.64" stroke="#000" stroke-width="1.63"/>
<text class="d" transform="translate(1678.4 1439.14)" font-size="20.4" text-anchor="middle">30</text>
<line x1="1821.9" y1="1406.5" x2="1821.9" y2="1413.64" stroke="#000" stroke-width="1.63"/>
<text class="d" transform="translate(1821.3 1439.14)" font-size="20.4" text-anchor="middle">40</text>
<line x1="1964.8" y1="1406.5" x2="1964.8" y2="1413.64" stroke="#000" stroke-width="1.63"/>
<text class="d" transform="translate(1964.2 1439.14)" font-size="20.4" text-anchor="middle">50</text>
<text class="d" transform="translate(1599.8 1468.4) scale(1 1.1)" x="0.2" font-size="20.4" text-anchor="middle" letter-spacing="0.4">epoch</text>
<text class="d" transform="translate(1123.8 1122) rotate(-90) scale(1 1.02)" x="0.2" font-size="20.4" text-anchor="middle" letter-spacing="0.4">accuracy</text>
<text class="d" transform="translate(1598.7 818.4)" x="0.43" font-size="24.48" text-anchor="middle" letter-spacing="0.87">Model Accuracy</text>
<rect x="1225.8" y="844.6" width="126.6" height="71.2" rx="4.08" fill="#fff" fill-opacity="0.8" stroke="#cccccc" stroke-opacity="0.8" stroke-width="1.63"/>
<line x1="1232.8" y1="860.7" x2="1277.7" y2="860.7" stroke="#1f77b4" stroke-width="3.06"/>
<text class="d" transform="translate(1295 868.51) scale(1 1.05)" font-size="20.4" text-anchor="start" letter-spacing="0.3">train</text>
<line x1="1232.8" y1="893.5" x2="1277.7" y2="893.5" stroke="#ff7f0e" stroke-width="3.06"/>
<text class="d" transform="translate(1295 901.31) scale(1 1.05)" font-size="20.4" text-anchor="start" letter-spacing="0.3">val</text>
<line x1="113.4" y1="1765.6" x2="113.4" y2="2161.2" stroke="#2a87c0" stroke-width="2.59"/>
<line x1="211.24" y1="1775.5" x2="211.24" y2="2092.9" stroke="#2a87c0" stroke-width="2.59"/>
<line x1="309.08" y1="1640" x2="309.08" y2="1959.6" stroke="#2a87c0" stroke-width="2.59"/>
<line x1="406.92" y1="1622.4" x2="406.92" y2="2014" stroke="#2a87c0" stroke-width="2.59"/>
<line x1="504.76" y1="1609.6" x2="504.76" y2="1980.1" stroke="#2a87c0" stroke-width="2.59"/>
<line x1="602.6" y1="1689.6" x2="602.6" y2="1955.5" stroke="#2a87c0" stroke-width="2.59"/>
<line x1="700.44" y1="1702.5" x2="700.44" y2="1949.7" stroke="#2a87c0" stroke-width="2.59"/>
<line x1="798.28" y1="1634.1" x2="798.28" y2="1870.2" stroke="#2a87c0" stroke-width="2.59"/>
<line x1="896.12" y1="1672.7" x2="896.12" y2="1960.2" stroke="#2a87c0" stroke-width="2.59"/>
<line x1="993.96" y1="1671.5" x2="993.96" y2="1885.4" stroke="#2a87c0" stroke-width="2.59"/>
<polyline fill="none" stroke="#2a87c0" stroke-width="2.59" stroke-linejoin="round" stroke-linecap="square" points="113.4,1963.1 211.24,1935.1 309.08,1799.5 406.92,1818.2 504.76,1795.4 602.6,1822.3 700.44,1826.4 798.28,1753.3 896.12,1816.5 993.96,1779.1"/>
<rect x="70.1" y="1582.1" width="968.3" height="606.6" fill="none" stroke="#000" stroke-width="1.38"/>
<line x1="64.04" y1="2156" x2="70.1" y2="2156" stroke="#000" stroke-width="1.38"/>
<text class="d" transform="translate(57.3 2163.08) scale(1 1.06)" font-size="17.3" text-anchor="end">2.8</text>
<line x1="64.04" y1="2064.05" x2="70.1" y2="2064.05" stroke="#000" stroke-width="1.38"/>
<text class="d" transform="translate(57.3 2071.13) scale(1 1.06)" font-size="17.3" text-anchor="end">3.0</text>
<line x1="64.04" y1="1972.1" x2="70.1" y2="1972.1" stroke="#000" stroke-width="1.38"/>
<text class="d" transform="translate(57.3 1979.18) scale(1 1.06)" font-size="17.3" text-anchor="end">3.2</text>
<line x1="64.04" y1="1880.15" x2="70.1" y2="1880.15" stroke="#000" stroke-width="1.38"/>
<text class="d" transform="translate(57.3 1887.23) scale(1 1.06)" font-size="17.3" text-anchor="end">3.4</text>
<line x1="64.04" y1="1788.2" x2="70.1" y2="1788.2" stroke="#000" stroke-width="1.38"/>
<text class="d" transform="translate(57.3 1795.28) scale(1 1.06)" font-size="17.3" text-anchor="end">3.6</text>
<line x1="64.04" y1="1696.25" x2="70.1" y2="1696.25" stroke="#000" stroke-width="1.38"/>
<text class="d" transform="translate(57.3 1703.33) scale(1 1.06)" font-size="17.3" text-anchor="end">3.8</text>
<line x1="64.04" y1="1604.3" x2="70.1" y2="1604.3" stroke="#000" stroke-width="1.38"/>
<text class="d" transform="translate(57.3 1611.38) scale(1 1.06)" font-size="17.3" text-anchor="end">4.0</text>
<line x1="113.4" y1="2188.7" x2="113.4" y2="2194.75" stroke="#000" stroke-width="1.38"/>
<text class="d" transform="translate(113.4 2216.18) scale(1 1.06)" font-size="17.3" text-anchor="middle">0.1</text>
<line x1="211.24" y1="2188.7" x2="211.24" y2="2194.75" stroke="#000" stroke-width="1.38"/>
<text class="d" transform="translate(211.24 2216.18) scale(1 1.06)" font-size="17.3" text-anchor="middle">0.2</text>
<line x1="309.08" y1="2188.7" x2="309.08" y2="2194.75" stroke="#000" stroke-width="1.38"/>
<text class="d" transform="translate(309.08 2216.18) scale(1 1.06)" font-size="17.3" text-anchor="middle">0.3</text>
<line x1="406.92" y1="2188.7" x2="406.92" y2="2194.75" stroke="#000" stroke-width="1.38"/>
<text class="d" transform="translate(406.92 2216.18) scale(1 1.06)" font-size="17.3" text-anchor="middle">0.4</text>
<line x1="504.76" y1="2188.7" x2="504.76" y2="2194.75" stroke="#000" stroke-width="1.38"/>
<text class="d" transform="translate(504.76 2216.18) scale(1 1.06)" font-size="17.3" text-anchor="middle">0.5</text>
<line x1="602.6" y1="2188.7" x2="602.6" y2="2194.75" stroke="#000" stroke-width="1.38"/>
<text class="d" transform="translate(602.6 2216.18) scale(1 1.06)" font-size="17.3" text-anchor="middle">0.6</text>
<line x1="700.44" y1="2188.7" x2="700.44" y2="2194.75" stroke="#000" stroke-width="1.38"/>
<text class="d" transform="translate(700.44 2216.18) scale(1 1.06)" font-size="17.3" text-anchor="middle">0.7</text>
<line x1="798.28" y1="2188.7" x2="798.28" y2="2194.75" stroke="#000" stroke-width="1.38"/>
<text class="d" transform="translate(798.28 2216.18) scale(1 1.06)" font-size="17.3" text-anchor="middle">0.8</text>
<line x1="896.12" y1="2188.7" x2="896.12" y2="2194.75" stroke="#000" stroke-width="1.38"/>
<text class="d" transform="translate(896.12 2216.18) scale(1 1.06)" font-size="17.3" text-anchor="middle">0.9</text>
<text class="d" transform="translate(554.6 2240.2) scale(1 1.03)" x="0.09" font-size="17.3" text-anchor="middle" letter-spacing="0.17">X * Input Size of Network</text>
<text class="d" transform="translate(17.9 1885.4) rotate(-90) scale(1 1.03)" x="0.06" font-size="17.3" text-anchor="middle" letter-spacing="0.12">Average Reward</text>
<polyline fill="none" stroke="#1f77b4" stroke-width="2" stroke-linejoin="miter" stroke-linecap="square" points="1188.3,2145.8 1188.83,2145.8 1189.37,2145.8 1189.9,2145.8 1190.44,2145.8 1190.97,2145.8 1191.5,2145.8 1192.04,2145.8 1192.57,2032.36 1193.11,2145.8 1193.64,2145.8 1194.17,2145.8 1194.71,2145.8 1195.24,2145.8 1195.78,2145.8 1196.31,2145.8 1196.84,2077.73 1197.38,2145.8 1197.91,2145.8 1198.45,2145.8 1198.98,2145.8 1199.51,2145.8 1200.05,2145.8 1200.58,2145.8 1201.12,2145.8 1201.65,2145.8 1202.18,2145.8 1202.72,2145.8 1203.25,2145.8 1203.79,2145.8 1204.32,2077.73 1204.85,2145.8 1205.39,2145.8 1205.92,2145.8 1206.46,2145.8 1206.99,2145.8 1207.52,2145.8 1208.06,2145.8 1208.59,2145.8 1209.13,2145.8 1209.66,2070.17 1210.19,2145.8 1210.73,2145.8 1211.26,2145.8 1211.8,2070.17 1212.33,2145.8 1212.86,2145.8 1213.4,2145.8 1213.93,2070.17 1214.47,2145.8 1215,2077.73 1215.53,2145.8 1216.07,2145.8 1216.6,2145.8 1217.14,2145.8 1217.67,2145.8 1218.2,2145.8 1218.74,2009.67 1219.27,2145.8 1219.81,2145.8 1220.34,2145.8 1220.87,2145.8 1221.41,2145.8 1221.94,2145.8 1222.48,2145.8 1223.01,2145.8 1223.54,2145.8 1224.08,2145.8 1224.61,2145.8 1225.15,2145.8 1225.68,2145.8 1226.21,2145.8 1226.75,2145.8 1227.28,2145.8 1227.82,2145.8 1228.35,2077.73 1228.88,2145.8 1229.42,2145.8 1229.95,2145.8 1230.49,2145.8 1231.02,2145.8 1231.55,2145.8 1232.09,2145.8 1232.62,2145.8 1233.16,2145.8 1233.69,2145.8 1234.22,2070.17 1234.76,2145.8 1235.29,2145.8 1235.83,2145.8 1236.36,2145.8 1236.89,2070.17 1237.43,2145.8 1237.96,2070.17 1238.5,2145.8 1239.03,2145.8 1239.56,2070.17 1240.1,2070.17 1240.63,2070.17 1241.17,2070.17 1241.7,2032.36 1242.23,2070.17 1242.77,2070.17 1243.3,2145.8 1243.84,2145.8 1244.37,1971.85 1244.9,2145.8 1245.44,2145.8 1245.97,2145.8 1246.51,2107.99 1247.04,2145.8 1247.57,2145.8 1248.11,2145.8 1248.64,2145.8 1249.18,2145.8 1249.71,2145.8 1250.24,1971.85 1250.78,2070.17 1251.31,2145.8 1251.85,2145.8 1252.38,2145.8 1252.91,2107.99 1253.45,2070.17 1253.98,2145.8 1254.52,2145.8 1255.05,2070.17 1255.58,2145.8 1256.12,2145.8 1256.65,2145.8 1257.19,2145.8 1257.72,2145.8 1258.25,2107.99 1258.79,2145.8 1259.32,2145.8 1259.86,2145.8 1260.39,1971.85 1260.92,2145.8 1261.46,2145.8 1261.99,2145.8 1262.53,2145.8 1263.06,2145.8 1263.59,2070.17 1264.13,1971.85 1264.66,2145.8 1265.2,2145.8 1265.73,2145.8 1266.26,1971.85 1266.8,2145.8 1267.33,2145.8 1267.87,2145.8 1268.4,2145.8 1268.93,2145.8 1269.47,2070.17 1270,2070.17 1270.54,2070.17 1271.07,2070.17 1271.6,2070.17 1272.14,1971.85 1272.67,2145.8 1273.21,2145.8 1273.74,2070.17 1274.27,1971.85 1274.81,2070.17 1275.34,2145.8 1275.88,2145.8 1276.41,2145.8 1276.94,2145.8 1277.48,2145.8 1278.01,2070.17 1278.55,2145.8 1279.08,2145.8 1279.61,2145.8 1280.15,2145.8 1280.68,2145.8 1281.22,2070.17 1281.75,2145.8 1282.28,2145.8 1282.82,2145.8 1283.35,2145.8 1283.89,1971.85 1284.42,2145.8 1284.95,2145.8 1285.49,2009.67 1286.02,1971.85 1286.56,2070.17 1287.09,2145.8 1287.62,2070.17 1288.16,2145.8 1288.69,2145.8 1289.23,2070.17 1289.76,2070.17 1290.29,2070.17 1290.83,2145.8 1291.36,2145.8 1291.9,2145.8 1292.43,2070.17 1292.96,2145.8 1293.5,2070.17 1294.03,2145.8 1294.57,2145.8 1295.1,2145.8 1295.63,2145.8 1296.17,2070.17 1296.7,2070.17 1297.24,2145.8 1297.77,2145.8 1298.3,2145.8 1298.84,2145.8 1299.37,2145.8 1299.91,2070.17 1300.44,2070.17 1300.97,1971.85 1301.51,2070.17 1302.04,2145.8 1302.58,2145.8 1303.11,2145.8 1303.64,2145.8 1304.18,2070.17 1304.71,2070.17 1305.25,2070.17 1305.78,2070.17 1306.31,2107.99 1306.85,2070.17 1307.38,2145.8 1307.92,2070.17 1308.45,2070.17 1308.98,2070.17 1309.52,2070.17 1310.05,1971.85 1310.59,2145.8 1311.12,2145.8 1311.65,2145.8 1312.19,2107.99 1312.72,2107.99 1313.26,1971.85 1313.79,2145.8 1314.32,2145.8 1314.86,2070.17 1315.39,2145.8 1315.93,1971.85 1316.46,2145.8 1316.99,2145.8 1317.53,2145.8 1318.06,1956.73 1318.6,2032.36 1319.13,2070.17 1319.66,2145.8 1320.2,2145.8 1320.73,2070.17 1321.27,2145.8 1321.8,2145.8 1322.33,2070.17 1322.87,2107.99 1323.4,2145.8 1323.94,1820.59 1324.47,2145.8 1325,2070.17 1325.54,2145.8 1326.07,2145.8 1326.61,2145.8 1327.14,2070.17 1327.67,2070.17 1328.21,2145.8 1328.74,2145.8 1329.28,1971.85 1329.81,1971.85 1330.34,2145.8 1330.88,1971.85 1331.41,2145.8 1331.95,2145.8 1332.48,2145.8 1333.01,2145.8 1333.55,2070.17 1334.08,1971.85 1334.62,2107.99 1335.15,2145.8 1335.68,1971.85 1336.22,2032.36 1336.75,2070.17 1337.29,2070.17 1337.82,2145.8 1338.35,2145.8 1338.89,2145.8 1339.42,2145.8 1339.96,2070.17 1340.49,2107.99 1341.02,1820.59 1341.56,2070.17 1342.09,2145.8 1342.63,2070.17 1343.16,2145.8 1343.69,2145.8 1344.23,2145.8 1344.76,2145.8 1345.3,2145.8 1345.83,2070.17 1346.36,2070.17 1346.9,1971.85 1347.43,1971.85 1347.97,1971.85 1348.5,1971.85 1349.03,2070.17 1349.57,2070.17 1350.1,2107.99 1350.64,2107.99 1351.17,2145.8 1351.7,2145.8 1352.24,2145.8 1352.77,1971.85 1353.31,2070.17 1353.84,2107.99 1354.37,2070.17 1354.91,2145.8 1355.44,2145.8 1355.98,2070.17 1356.51,1971.85 1357.04,2070.17 1357.58,1971.85 1358.11,2145.8 1358.65,2145.8 1359.18,2145.8 1359.71,2145.8 1360.25,2145.8 1360.78,2107.99 1361.32,2070.17 1361.85,1956.73 1362.38,2107.99 1362.92,2145.8 1363.45,2145.8 1363.99,2145.8 1364.52,2145.8 1365.05,2070.17 1365.59,1971.85 1366.12,1820.59 1366.66,2070.17 1367.19,2070.17 1367.72,2145.8 1368.26,1971.85 1368.79,1918.91 1369.33,1971.85 1369.86,1820.59 1370.39,2145.8 1370.93,2145.8 1371.46,2070.17 1372,2070.17 1372.53,2070.17 1373.06,1971.85 1373.6,2145.8 1374.13,2145.8 1374.67,1971.85 1375.2,2070.17 1375.73,2107.99 1376.27,2145.8 1376.8,2145.8 1377.34,2145.8 1377.87,2145.8 1378.4,2145.8 1378.94,2145.8 1379.47,2070.17 1380.01,2145.8 1380.54,2145.8 1381.07,2145.8 1381.61,1956.73 1382.14,2145.8 1382.68,2070.17 1383.21,1782.78 1383.74,2107.99 1384.28,1971.85 1384.81,1971.85 1385.35,2070.17 1385.88,2145.8 1386.41,2145.8 1386.95,2070.17 1387.48,1918.91 1388.02,1971.85 1388.55,2070.17 1389.08,2145.8 1389.62,2070.17 1390.15,2070.17 1390.69,2070.17 1391.22,2107.99 1391.75,2107.99 1392.29,2070.17 1392.82,2070.17 1393.36,2070.17 1393.89,1782.78 1394.42,2107.99 1394.96,2107.99 1395.49,1782.78 1396.03,2107.99 1396.56,1971.85 1397.09,2145.8 1397.63,2070.17 1398.16,1971.85 1398.7,1903.78 1399.23,2070.17 1399.76,2070.17 1400.3,2145.8 1400.83,2070.17 1401.37,1956.73 1401.9,2145.8 1402.43,2145.8 1402.97,2070.17 1403.5,2070.17 1404.04,2145.8 1404.57,2107.99 1405.1,1956.73 1405.64,2070.17 1406.17,2145.8 1406.71,1888.66 1407.24,2145.8 1407.77,2070.17 1408.31,1828.15 1408.84,1956.73 1409.38,1971.85 1409.91,2070.17 1410.44,2070.17 1410.98,1971.85 1411.51,2070.17 1412.05,2070.17 1412.58,2145.8 1413.11,2145.8 1413.65,2070.17 1414.18,1782.78 1414.72,1971.85 1415.25,1934.04 1415.78,1903.78 1416.32,2145.8 1416.85,2145.8 1417.39,2107.99 1417.92,2145.8 1418.45,2145.8 1418.99,2145.8 1419.52,2107.99 1420.06,2070.17 1420.59,2070.17 1421.12,1971.85 1421.66,1971.85 1422.19,2107.99 1422.73,2070.17 1423.26,2145.8 1423.79,2145.8 1424.33,2145.8 1424.86,2107.99 1425.4,2145.8 1425.93,2145.8 1426.46,2145.8 1427,2145.8 1427.53,2070.17 1428.07,1971.85 1428.6,1752.52 1429.13,2145.8 1429.67,2145.8 1430.2,2070.17 1430.74,1971.85 1431.27,2145.8 1431.8,2145.8 1432.34,1918.91 1432.87,2070.17 1433.41,1971.85 1433.94,1782.78 1434.47,2107.99 1435.01,1956.73 1435.54,2145.8 1436.08,2070.17 1436.61,2070.17 1437.14,2070.17 1437.68,2145.8 1438.21,1903.78 1438.75,2070.17 1439.28,1956.73 1439.81,1971.85 1440.35,2145.8 1440.88,2070.17 1441.42,1888.66 1441.95,2145.8 1442.48,1971.85 1443.02,1971.85 1443.55,2070.17 1444.09,1918.91 1444.62,2145.8 1445.15,2032.36 1445.69,2070.17 1446.22,2145.8 1446.76,2145.8 1447.29,2070.17 1447.82,2070.17 1448.36,2070.17 1448.89,2145.8 1449.43,2145.8 1449.96,2145.8 1450.49,1888.66 1451.03,2145.8 1451.56,2107.99 1452.1,1971.85 1452.63,2145.8 1453.16,2145.8 1453.7,2145.8 1454.23,1956.73 1454.77,1828.15 1455.3,1820.59 1455.83,1865.97 1456.37,2145.8 1456.9,2107.99 1457.44,2145.8 1457.97,2145.8 1458.5,2145.8 1459.04,2070.17 1459.57,1971.85 1460.11,1865.97 1460.64,1971.85 1461.17,2032.36 1461.71,1971.85 1462.24,2070.17 1462.78,2145.8 1463.31,2145.8 1463.84,2145.8 1464.38,2070.17 1464.91,2145.8 1465.45,2070.17 1465.98,2145.8 1466.51,2145.8 1467.05,2070.17 1467.58,2145.8 1468.12,2070.17 1468.65,1865.97 1469.18,2145.8 1469.72,2145.8 1470.25,2145.8 1470.79,2145.8 1471.32,2145.8 1471.85,2145.8 1472.39,2070.17 1472.92,2107.99 1473.46,2145.8 1473.99,2145.8 1474.52,2145.8 1475.06,1903.78 1475.59,2145.8 1476.13,2145.8 1476.66,1616.39 1477.19,2070.17 1477.73,1971.85 1478.26,2145.8 1478.8,1971.85 1479.33,2032.36 1479.86,2070.17 1480.4,1752.52 1480.93,2145.8 1481.47,2145.8 1482,2032.36 1482.53,1676.89 1483.07,1971.85 1483.6,1971.85 1484.14,1971.85 1484.67,2145.8 1485.2,2107.99 1485.74,2107.99 1486.27,2145.8 1486.81,2145.8 1487.34,1971.85 1487.87,1971.85 1488.41,2145.8 1488.94,2145.8 1489.48,1934.04 1490.01,1971.85 1490.54,1676.89 1491.08,1971.85 1491.61,2145.8 1492.15,2145.8 1492.68,2032.36 1493.21,2107.99 1493.75,2107.99 1494.28,1971.85 1494.82,2070.17 1495.35,2070.17 1495.88,2145.8 1496.42,1676.89 1496.95,1646.64 1497.49,1676.89 1498.02,1896.22 1498.55,2145.8 1499.09,2107.99 1499.62,1646.64 1500.16,2070.17 1500.69,1971.85 1501.22,1971.85 1501.76,2145.8 1502.29,2107.99 1502.83,2145.8 1503.36,2145.8 1503.89,1971.85 1504.43,2145.8 1504.96,2145.8 1505.5,2145.8 1506.03,2145.8 1506.56,2107.99 1507.1,2070.17 1507.63,1714.71 1508.17,1971.85 1508.7,2070.17 1509.23,1971.85 1509.77,2070.17 1510.3,1971.85 1510.84,1714.71 1511.37,1971.85 1511.9,2070.17 1512.44,2145.8 1512.97,1971.85 1513.51,1971.85 1514.04,2145.8 1514.57,1828.15 1515.11,1971.85 1515.64,2032.36 1516.18,2145.8 1516.71,2145.8 1517.24,1971.85 1517.78,2145.8 1518.31,1971.85 1518.85,2145.8 1519.38,1971.85 1519.91,2032.36 1520.45,2145.8 1520.98,1971.85 1521.52,2032.36 1522.05,2107.99 1522.58,1971.85 1523.12,2070.17 1523.65,2145.8 1524.19,2145.8 1524.72,2145.8 1525.25,2145.8 1525.79,1971.85 1526.32,1971.85 1526.86,1971.85 1527.39,1971.85 1527.92,2145.8 1528.46,2145.8 1528.99,2145.8 1529.53,2145.8 1530.06,2145.8 1530.59,1971.85 1531.13,2145.8 1531.66,2145.8 1532.2,2070.17 1532.73,2145.8 1533.26,1971.85 1533.8,1971.85 1534.33,2145.8 1534.87,2032.36 1535.4,2032.36 1535.93,2145.8 1536.47,2145.8 1537,2032.36 1537.54,1676.89 1538.07,1971.85 1538.6,1676.89 1539.14,1971.85 1539.67,2032.36 1540.21,2070.17 1540.74,1971.85 1541.27,2032.36 1541.81,2107.99 1542.34,1971.85 1542.88,2145.8 1543.41,2070.17 1543.94,2145.8 1544.48,1971.85 1545.01,2145.8 1545.55,2145.8 1546.08,2145.8 1546.61,2070.17 1547.15,2070.17 1547.68,2145.8 1548.22,2145.8 1548.75,2145.8 1549.28,2107.99 1549.82,2107.99 1550.35,2070.17 1550.89,1971.85 1551.42,1971.85 1551.95,1971.85 1552.49,2145.8 1553.02,2145.8 1553.56,2107.99 1554.09,1971.85 1554.62,2070.17 1555.16,2107.99 1555.69,2145.8 1556.23,2145.8 1556.76,1971.85 1557.29,1971.85 1557.83,2145.8 1558.36,1646.64 1558.9,2145.8 1559.43,2070.17 1559.96,1971.85 1560.5,2070.17 1561.03,2145.8 1561.57,2145.8 1562.1,1971.85 1562.63,2070.17 1563.17,2032.36 1563.7,2070.17 1564.24,1858.41 1564.77,2145.8 1565.3,1971.85 1565.84,1971.85 1566.37,2070.17 1566.91,2145.8 1567.44,2070.17 1567.97,2145.8 1568.51,2070.17 1569.04,2107.99 1569.58,2145.8 1570.11,2145.8 1570.64,1646.64 1571.18,2070.17 1571.71,2145.8 1572.25,1790.34 1572.78,1971.85 1573.31,1858.41 1573.85,1971.85 1574.38,1971.85 1574.92,2070.17 1575.45,2145.8 1575.98,1971.85 1576.52,1646.64 1577.05,1676.89 1577.59,2145.8 1578.12,1684.46 1578.65,2107.99 1579.19,1646.64 1579.72,1828.15 1580.26,2145.8 1580.79,2145.8 1581.32,1684.46 1581.86,1971.85 1582.39,2070.17 1582.93,1971.85 1583.46,1676.89 1583.99,1676.89 1584.53,2145.8 1585.06,2145.8 1585.6,2145.8 1586.13,2145.8 1586.66,2145.8 1587.2,2145.8 1587.73,2145.8 1588.27,1971.85 1588.8,1971.85 1589.33,1971.85 1589.87,1971.85 1590.4,2032.36 1590.94,2107.99 1591.47,2145.8 1592,2070.17 1592.54,1971.85 1593.07,2145.8 1593.61,2145.8 1594.14,1971.85 1594.67,2107.99 1595.21,1971.85 1595.74,2145.8 1596.28,2070.17 1596.81,2070.17 1597.34,2145.8 1597.88,1676.89 1598.41,2145.8 1598.95,2107.99 1599.48,2032.36 1600.01,2145.8 1600.55,2070.17 1601.08,1828.15 1601.62,2145.8 1602.15,2070.17 1602.68,1646.64 1603.22,2145.8 1603.75,1971.85 1604.29,2070.17 1604.82,2145.8 1605.35,1790.34 1605.89,2107.99 1606.42,2032.36 1606.96,1934.04 1607.49,1646.64 1608.02,1676.89 1608.56,1971.85 1609.09,1971.85 1609.63,2032.36 1610.16,1971.85 1610.69,2145.8 1611.23,1971.85 1611.76,2070.17 1612.3,1971.85 1612.83,2070.17 1613.36,1971.85 1613.9,1971.85 1614.43,2145.8 1614.97,2145.8 1615.5,2145.8 1616.03,2145.8 1616.57,2070.17 1617.1,2107.99 1617.64,2145.8 1618.17,2070.17 1618.7,1790.34 1619.24,2145.8 1619.77,2107.99 1620.31,1676.89 1620.84,1971.85 1621.37,2145.8 1621.91,2107.99 1622.44,1971.85 1622.98,1684.46 1623.51,2145.8 1624.04,2145.8 1624.58,1714.71 1625.11,2070.17 1625.65,1865.97 1626.18,2145.8 1626.71,2145.8 1627.25,2070.17 1627.78,1971.85 1628.32,2145.8 1628.85,1646.64 1629.38,2070.17 1629.92,1971.85 1630.45,1676.89 1630.99,2145.8 1631.52,2070.17 1632.05,2070.17 1632.59,2145.8 1633.12,2032.36 1633.66,2070.17 1634.19,2070.17 1634.72,1971.85 1635.26,1646.64 1635.79,2070.17 1636.33,1714.71 1636.86,2145.8 1637.39,2145.8 1637.93,2145.8 1638.46,2145.8 1639,2107.99 1639.53,2107.99 1640.06,1858.41 1640.6,2145.8 1641.13,1676.89 1641.67,2070.17 1642.2,2070.17 1642.73,1971.85 1643.27,1676.89 1643.8,1971.85 1644.34,2145.8 1644.87,2032.36 1645.4,2145.8 1645.94,2145.8 1646.47,1714.71 1647.01,1971.85 1647.54,2145.8 1648.07,1971.85 1648.61,1646.64 1649.14,1971.85 1649.68,2145.8 1650.21,1971.85 1650.74,2070.17 1651.28,2145.8 1651.81,2145.8 1652.35,1971.85 1652.88,2145.8 1653.41,1714.71 1653.95,2145.8 1654.48,2145.8 1655.02,2145.8 1655.55,2070.17 1656.08,1676.89 1656.62,2145.8 1657.15,2145.8 1657.69,2070.17 1658.22,2145.8 1658.75,1971.85 1659.29,1971.85 1659.82,1971.85 1660.36,1971.85 1660.89,1971.85 1661.42,2145.8 1661.96,1971.85 1662.49,2145.8 1663.03,2145.8 1663.56,2145.8 1664.09,2145.8 1664.63,1971.85 1665.16,1646.64 1665.7,1971.85 1666.23,2070.17 1666.76,2070.17 1667.3,2032.36 1667.83,1971.85 1668.37,1896.22 1668.9,1971.85 1669.43,2145.8 1669.97,2145.8 1670.5,2145.8 1671.04,1676.89 1671.57,1971.85 1672.1,2070.17 1672.64,1971.85 1673.17,1646.64 1673.71,2145.8 1674.24,2145.8 1674.77,2145.8 1675.31,1896.22 1675.84,2145.8 1676.38,2145.8 1676.91,1616.39 1677.44,1971.85 1677.98,2070.17 1678.51,1971.85 1679.05,1858.41 1679.58,2145.8 1680.11,1971.85 1680.65,1865.97 1681.18,2070.17 1681.72,2145.8 1682.25,2070.17 1682.78,2070.17 1683.32,1971.85 1683.85,1971.85 1684.39,1971.85 1684.92,1971.85 1685.45,2145.8 1685.99,2145.8 1686.52,1714.71 1687.06,1971.85 1687.59,1971.85 1688.12,1971.85 1688.66,1684.46 1689.19,1971.85 1689.73,1714.71 1690.26,1971.85 1690.79,1971.85 1691.33,2145.8 1691.86,2145.8 1692.4,2145.8 1692.93,2145.8 1693.46,2145.8 1694,2145.8 1694.53,1934.04 1695.07,1971.85 1695.6,2070.17 1696.13,1971.85 1696.67,1714.71 1697.2,2145.8 1697.74,2145.8 1698.27,1971.85 1698.8,2145.8 1699.34,1971.85 1699.87,2145.8 1700.41,2145.8 1700.94,2145.8 1701.47,2107.99 1702.01,1752.52 1702.54,1971.85 1703.08,2145.8 1703.61,2145.8 1704.14,1676.89 1704.68,2070.17 1705.21,2145.8 1705.75,1971.85 1706.28,1646.64 1706.81,2145.8 1707.35,2107.99 1707.88,2145.8 1708.42,2145.8 1708.95,1971.85 1709.48,2145.8 1710.02,2145.8 1710.55,2145.8 1711.09,1971.85 1711.62,2032.36 1712.15,2145.8 1712.69,2107.99 1713.22,1971.85 1713.76,2070.17 1714.29,2070.17 1714.82,1971.85 1715.36,2107.99 1715.89,1971.85 1716.43,2070.17 1716.96,1971.85 1717.49,1971.85 1718.03,1934.04 1718.56,2107.99 1719.1,1676.89 1719.63,2070.17 1720.16,2070.17 1720.7,1971.85 1721.23,2145.8 1721.77,1971.85 1722.3,1971.85 1722.83,2145.8 1723.37,1714.71 1723.9,1820.59 1724.44,2145.8 1724.97,1865.97 1725.5,2145.8 1726.04,2145.8 1726.57,2145.8 1727.11,1714.71 1727.64,1971.85 1728.17,1971.85 1728.71,1971.85 1729.24,2070.17 1729.78,2145.8 1730.31,2070.17 1730.84,1971.85 1731.38,2107.99 1731.91,2145.8 1732.45,2145.8 1732.98,2145.8 1733.51,2032.36 1734.05,2145.8 1734.58,2032.36 1735.12,2145.8 1735.65,2032.36 1736.18,2145.8 1736.72,2145.8 1737.25,2070.17 1737.79,2145.8 1738.32,2070.17 1738.85,2070.17 1739.39,2145.8 1739.92,2070.17 1740.46,1971.85 1740.99,2145.8 1741.52,2145.8 1742.06,2145.8 1742.59,2032.36 1743.13,1714.71 1743.66,1646.64 1744.19,2145.8 1744.73,2145.8 1745.26,2145.8 1745.8,1971.85 1746.33,2145.8 1746.86,2070.17 1747.4,1934.04 1747.93,2145.8 1748.47,2145.8 1749,1646.64 1749.53,2107.99 1750.07,2145.8 1750.6,2145.8 1751.14,1971.85 1751.67,1971.85 1752.2,2070.17 1752.74,2145.8 1753.27,2145.8 1753.81,2145.8 1754.34,2070.17 1754.87,2145.8 1755.41,2070.17 1755.94,2145.8 1756.48,1714.71 1757.01,1676.89 1757.54,2070.17 1758.08,1971.85 1758.61,1971.85 1759.15,1971.85 1759.68,2070.17 1760.21,2145.8 1760.75,2070.17 1761.28,2070.17 1761.82,1971.85 1762.35,1971.85 1762.88,1676.89 1763.42,1971.85 1763.95,2145.8 1764.49,2145.8 1765.02,2145.8 1765.55,2145.8 1766.09,2070.17 1766.62,2070.17 1767.16,1676.89 1767.69,1971.85 1768.22,1971.85 1768.76,1865.97 1769.29,2107.99 1769.83,1790.34 1770.36,2145.8 1770.89,2070.17 1771.43,2107.99 1771.96,2070.17 1772.5,2070.17 1773.03,1714.71 1773.56,1971.85 1774.1,2145.8 1774.63,2145.8 1775.17,2145.8 1775.7,2145.8 1776.23,1828.15 1776.77,2145.8 1777.3,2145.8 1777.84,2145.8 1778.37,1971.85 1778.9,2107.99 1779.44,2145.8 1779.97,1971.85 1780.51,1646.64 1781.04,2145.8 1781.57,2145.8 1782.11,2145.8 1782.64,1971.85 1783.18,2145.8 1783.71,2145.8 1784.24,2070.17 1784.78,2070.17 1785.31,2070.17 1785.85,2145.8 1786.38,1676.89 1786.91,2145.8 1787.45,2145.8 1787.98,2107.99 1788.52,2145.8 1789.05,2107.99 1789.58,1714.71 1790.12,2145.8 1790.65,2145.8 1791.19,1714.71 1791.72,2145.8 1792.25,2145.8 1792.79,2145.8 1793.32,2145.8 1793.86,1971.85 1794.39,1676.89 1794.92,1971.85 1795.46,1971.85 1795.99,2145.8 1796.53,2145.8 1797.06,1971.85 1797.59,2145.8 1798.13,2145.8 1798.66,2070.17 1799.2,2145.8 1799.73,2145.8 1800.26,2070.17 1800.8,1714.71 1801.33,2070.17 1801.87,1646.64 1802.4,2032.36 1802.93,1971.85 1803.47,2145.8 1804,2145.8 1804.54,2145.8 1805.07,1971.85 1805.6,1971.85 1806.14,1865.97 1806.67,2145.8 1807.21,2070.17 1807.74,1971.85 1808.27,2070.17 1808.81,1714.71 1809.34,2145.8 1809.88,1971.85 1810.41,1971.85 1810.94,2145.8 1811.48,1971.85 1812.01,1971.85 1812.55,1971.85 1813.08,1971.85 1813.61,1971.85 1814.15,2145.8 1814.68,2107.99 1815.22,1971.85 1815.75,2070.17 1816.28,1971.85 1816.82,1971.85 1817.35,1676.89 1817.89,1858.41 1818.42,1971.85 1818.95,2070.17 1819.49,2145.8 1820.02,1646.64 1820.56,1971.85 1821.09,2145.8 1821.62,1971.85 1822.16,1646.64 1822.69,2145.8 1823.23,1971.85 1823.76,1971.85 1824.29,2145.8 1824.83,1971.85 1825.36,2070.17 1825.9,2070.17 1826.43,2145.8 1826.96,2070.17 1827.5,2070.17 1828.03,1971.85 1828.57,1646.64 1829.1,1714.71 1829.63,1971.85 1830.17,2070.17 1830.7,1676.89 1831.24,1971.85 1831.77,1971.85 1832.3,1971.85 1832.84,2070.17 1833.37,2032.36 1833.91,2145.8 1834.44,2145.8 1834.97,2145.8 1835.51,1971.85 1836.04,1971.85 1836.58,2032.36 1837.11,2145.8 1837.64,1971.85 1838.18,1971.85 1838.71,2070.17 1839.25,2145.8 1839.78,2145.8 1840.31,2107.99 1840.85,2145.8 1841.38,2145.8 1841.92,1646.64 1842.45,2032.36 1842.98,1828.15 1843.52,2107.99 1844.05,2070.17 1844.59,2145.8 1845.12,1676.89 1845.65,2032.36 1846.19,2032.36 1846.72,1971.85 1847.26,1971.85 1847.79,2070.17 1848.32,2070.17 1848.86,2145.8 1849.39,1971.85 1849.93,2145.8 1850.46,1971.85 1850.99,2145.8 1851.53,2145.8 1852.06,2145.8 1852.6,1684.46 1853.13,2070.17 1853.66,1971.85 1854.2,1971.85 1854.73,2145.8 1855.27,1858.41 1855.8,2070.17 1856.33,1676.89 1856.87,2145.8 1857.4,1971.85 1857.94,1971.85 1858.47,2145.8 1859,1971.85 1859.54,2070.17 1860.07,2145.8 1860.61,2145.8 1861.14,2145.8 1861.67,1971.85 1862.21,2145.8 1862.74,2070.17 1863.28,2070.17 1863.81,2070.17 1864.34,2032.36 1864.88,2145.8 1865.41,2070.17 1865.95,2107.99 1866.48,1646.64 1867.01,2145.8 1867.55,2032.36 1868.08,2107.99 1868.62,2145.8 1869.15,2145.8 1869.68,2145.8 1870.22,1752.52 1870.75,1971.85 1871.29,2145.8 1871.82,2070.17 1872.35,2145.8 1872.89,2070.17 1873.42,1676.89 1873.96,1971.85 1874.49,1971.85 1875.02,2145.8 1875.56,2070.17 1876.09,2145.8 1876.63,2145.8 1877.16,2145.8 1877.69,2070.17 1878.23,2145.8 1878.76,1971.85 1879.3,2070.17 1879.83,1676.89 1880.36,1971.85 1880.9,2070.17 1881.43,1971.85 1881.97,1971.85 1882.5,2145.8 1883.03,1646.64 1883.57,1971.85 1884.1,1752.52 1884.64,1971.85 1885.17,2070.17 1885.7,2032.36 1886.24,1971.85 1886.77,1971.85 1887.31,2145.8 1887.84,2145.8 1888.37,1971.85 1888.91,2145.8 1889.44,1971.85 1889.98,2145.8 1890.51,2145.8 1891.04,2145.8 1891.58,2107.99 1892.11,2070.17 1892.65,2107.99 1893.18,2145.8 1893.71,2145.8 1894.25,1971.85 1894.78,2107.99 1895.32,2070.17 1895.85,2107.99 1896.38,2032.36 1896.92,2107.99 1897.45,2070.17 1897.99,2145.8 1898.52,2145.8 1899.05,1971.85 1899.59,1676.89 1900.12,2070.17 1900.66,1971.85 1901.19,1971.85 1901.72,1971.85 1902.26,1828.15 1902.79,2107.99 1903.33,2070.17 1903.86,1971.85 1904.39,2145.8 1904.93,2145.8 1905.46,2145.8 1906,1646.64 1906.53,1971.85 1907.06,2145.8 1907.6,1646.64 1908.13,1714.71 1908.67,2070.17 1909.2,1820.59 1909.73,2032.36 1910.27,1714.71 1910.8,2145.8 1911.34,1790.34 1911.87,1714.71 1912.4,2145.8 1912.94,2070.17 1913.47,2145.8 1914.01,2145.8 1914.54,2145.8 1915.07,2145.8 1915.61,2145.8 1916.14,2145.8 1916.68,2145.8 1917.21,1971.85 1917.74,2070.17 1918.28,2145.8 1918.81,1714.71 1919.35,2145.8 1919.88,2145.8 1920.41,1714.71 1920.95,2070.17 1921.48,1752.52 1922.02,2070.17 1922.55,2145.8 1923.08,2070.17 1923.62,2032.36 1924.15,1676.89 1924.69,1646.64 1925.22,2070.17 1925.75,1971.85 1926.29,2070.17 1926.82,2145.8 1927.36,2145.8 1927.89,1971.85 1928.42,1865.97 1928.96,2070.17 1929.49,2032.36 1930.03,1971.85 1930.56,1971.85 1931.09,1971.85 1931.63,1971.85 1932.16,2070.17 1932.7,1971.85 1933.23,1646.64 1933.76,2032.36 1934.3,2145.8 1934.83,2145.8 1935.37,2145.8 1935.9,1971.85 1936.43,2107.99 1936.97,2070.17 1937.5,2070.17 1938.04,2145.8 1938.57,2070.17 1939.1,1858.41 1939.64,1714.71 1940.17,1714.71 1940.71,2145.8 1941.24,2145.8"/>
<rect x="1150.7" y="1590" width="828.1" height="582.1" fill="none" stroke="#000" stroke-width="1.52"/>
<line x1="1144.05" y1="2146.2" x2="1150.7" y2="2146.2" stroke="#000" stroke-width="1.52"/>
<text class="d" transform="translate(1136.4 2153.84) scale(1 1.06)" font-size="19" text-anchor="end">0</text>
<line x1="1144.05" y1="2070.57" x2="1150.7" y2="2070.57" stroke="#000" stroke-width="1.52"/>
<text class="d" transform="translate(1136.4 2078.21) scale(1 1.06)" font-size="19" text-anchor="end">10</text>
<line x1="1144.05" y1="1994.94" x2="1150.7" y2="1994.94" stroke="#000" stroke-width="1.52"/>
<text class="d" transform="translate(1136.4 2002.58) scale(1 1.06)" font-size="19" text-anchor="end">20</text>
<line x1="1144.05" y1="1919.31" x2="1150.7" y2="1919.31" stroke="#000" stroke-width="1.52"/>
<text class="d" transform="translate(1136.4 1926.95) scale(1 1.06)" font-size="19" text-anchor="end">30</text>
<line x1="1144.05" y1="1843.68" x2="1150.7" y2="1843.68" stroke="#000" stroke-width="1.52"/>
<text class="d" transform="translate(1136.4 1851.32) scale(1 1.06)" font-size="19" text-anchor="end">40</text>
<line x1="1144.05" y1="1768.05" x2="1150.7" y2="1768.05" stroke="#000" stroke-width="1.52"/>
<text class="d" transform="translate(1136.4 1775.69) scale(1 1.06)" font-size="19" text-anchor="end">50</text>
<line x1="1144.05" y1="1692.42" x2="1150.7" y2="1692.42" stroke="#000" stroke-width="1.52"/>
<text class="d" transform="translate(1136.4 1700.06) scale(1 1.06)" font-size="19" text-anchor="end">60</text>
<line x1="1144.05" y1="1616.79" x2="1150.7" y2="1616.79" stroke="#000" stroke-width="1.52"/>
<text class="d" transform="translate(1136.4 1624.43) scale(1 1.06)" font-size="19" text-anchor="end">70</text>
<line x1="1188.3" y1="2172.1" x2="1188.3" y2="2178.75" stroke="#000" stroke-width="1.52"/>
<text class="d" transform="translate(1188.3 2201.14) scale(1 1.06)" x="0.3" font-size="19" text-anchor="middle" letter-spacing="0.6">0</text>
<line x1="1295.1" y1="2172.1" x2="1295.1" y2="2178.75" stroke="#000" stroke-width="1.52"/>
<text class="d" transform="translate(1295.1 2201.14) scale(1 1.06)" x="0.3" font-size="19" text-anchor="middle" letter-spacing="0.6">200</text>
<line x1="1401.9" y1="2172.1" x2="1401.9" y2="2178.75" stroke="#000" stroke-width="1.52"/>
<text class="d" transform="translate(1401.9 2201.14) scale(1 1.06)" x="0.3" font-size="19" text-anchor="middle" letter-spacing="0.6">400</text>
<line x1="1508.7" y1="2172.1" x2="1508.7" y2="2178.75" stroke="#000" stroke-width="1.52"/>
<text class="d" transform="translate(1508.7 2201.14) scale(1 1.06)" x="0.3" font-size="19" text-anchor="middle" letter-spacing="0.6">600</text>
<line x1="1615.5" y1="2172.1" x2="1615.5" y2="2178.75" stroke="#000" stroke-width="1.52"/>
<text class="d" transform="translate(1615.5 2201.14) scale(1 1.06)" x="0.3" font-size="19" text-anchor="middle" letter-spacing="0.6">800</text>
<line x1="1722.3" y1="2172.1" x2="1722.3" y2="2178.75" stroke="#000" stroke-width="1.52"/>
<text class="d" transform="translate(1722.3 2201.14) scale(1 1.06)" x="0.3" font-size="19" text-anchor="middle" letter-spacing="0.6">1000</text>
<line x1="1829.1" y1="2172.1" x2="1829.1" y2="2178.75" stroke="#000" stroke-width="1.52"/>
<text class="d" transform="translate(1829.1 2201.14) scale(1 1.06)" x="0.3" font-size="19" text-anchor="middle" letter-spacing="0.6">1200</text>
<line x1="1935.9" y1="2172.1" x2="1935.9" y2="2178.75" stroke="#000" stroke-width="1.52"/>
<text class="d" transform="translate(1935.9 2201.14) scale(1 1.06)" x="0.3" font-size="19" text-anchor="middle" letter-spacing="0.6">1400</text>
<text class="d" transform="translate(1564.6 2229.2) scale(1 1.05)" x="0.12" font-size="19" text-anchor="middle" letter-spacing="0.25">Episode</text>
<text class="d" transform="translate(1098.6 1881.4) rotate(-90) scale(1 1.04)" x="0.18" font-size="19" text-anchor="middle" letter-spacing="0.37">Rewards collected</text>
<text class="d" transform="translate(1565.2 1578.3)" x="0.2" font-size="22.8" text-anchor="middle" letter-spacing="0.4">Rewards collected per Episode</text>
</svg>
</body></html>
